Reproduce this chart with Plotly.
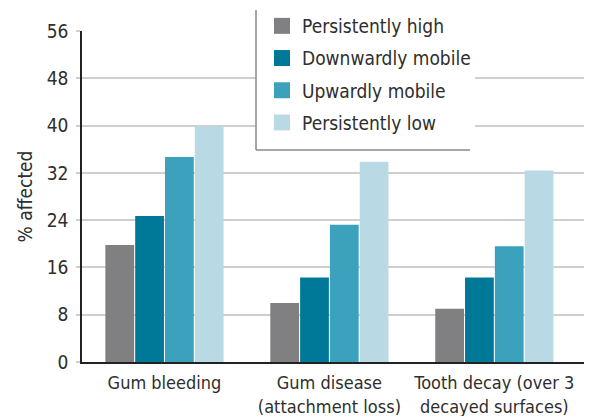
import plotly.graph_objects as go

categories = ["Gum bleeding", "Gum disease<br>(attachment loss)", "Tooth decay (over 3<br>decayed surfaces)"]
series_names = ["Persistently high", "Downwardly mobile", "Upwardly mobile", "Persistently low"]
persistently_high = [19.8, 10.0, 9.0]
downwardly_mobile = [24.7, 14.3, 14.3]
upwardly_mobile = [34.7, 23.2, 19.6]
persistently_low = [39.9, 33.9, 32.4]
y_ticks = [0, 8, 16, 24, 32, 40, 48, 56]

colors = ["#808083", "#007898", "#3ca1bd", "#b9dae4"]
FONT = "DejaVu Sans Condensed, Liberation Sans Narrow, sans-serif"
TXT = "#2e2e2e"

# the page body adds an 8px margin; the figure is sized so page == reference pixels
OFF = 8
W, H = 592 - OFF, 416 - OFF

fig = go.Figure()
for name, vals, col in zip(series_names,
                           [persistently_high, downwardly_mobile, upwardly_mobile, persistently_low],
                           colors):
    fig.add_trace(go.Bar(x=categories, y=vals, name=name, marker=dict(color=col, line=dict(width=0)),
                         showlegend=False))
for name, col in zip(series_names, colors):
    fig.add_trace(go.Scatter(x=[None], y=[None], mode="markers", name=name, legendgroup=name,
                             marker=dict(symbol="square", size=16, color=col), showlegend=True))

# plot area in page pixels: x 82..590, y 31..362
L, R, T, B = 82 - OFF, 590 - OFF, 31 - OFF, 362 - OFF
def px(x):
    return (x - OFF - L) / (R - L)
def py(y):
    return (B - (y - OFF)) / (B - T)

fig.add_shape(type="rect", xref="paper", yref="paper", x0=px(256), x1=px(475), y0=py(150), y1=py(9),
              fillcolor="white", line=dict(width=0), layer="above")
fig.add_shape(type="line", xref="paper", yref="paper", x0=px(256), x1=px(256), y0=py(150), y1=py(10),
              line=dict(color="#8a8a8a", width=1.5), layer="above")
fig.add_shape(type="line", xref="paper", yref="paper", x0=px(256), x1=px(470), y0=py(150), y1=py(150),
              line=dict(color="#8a8a8a", width=1.5), layer="above")

fig.update_layout(
    width=W, height=H,
    margin=dict(l=L, r=W - R, t=T, b=H - B, autoexpand=False),
    paper_bgcolor="white", plot_bgcolor="white",
    barmode="group", bargap=0.277, bargroupgap=0.035,
    font=dict(family=FONT, size=19, color=TXT),
    legend=dict(x=px(262), y=py(7), xanchor="left", yanchor="top",
                bgcolor="rgba(0,0,0,0)", borderwidth=0,
                traceorder="grouped", tracegroupgap=4.5,
                font=dict(family=FONT, size=19, color=TXT)),
    xaxis=dict(range=[-0.5, 2.58], showgrid=False, showline=True, linecolor="#222222", linewidth=1.5,
               ticks="", ticklabelstandoff=4, tickfont=dict(family=FONT, size=18, color=TXT)),
    yaxis=dict(range=[0, 56], tickvals=y_ticks, showgrid=True, gridcolor="#cfcfcf", gridwidth=1.5,
               showline=True, linecolor="#222222", linewidth=1.5, ticks="outside", ticklen=4,
               tickcolor="#cfcfcf", tickwidth=1.5, zeroline=False, ticklabelstandoff=4,
               tickfont=dict(family=FONT, size=19, color=TXT),
               title=dict(text="% affected", font=dict(family=FONT, size=19, color=TXT), standoff=9)),
)

fig.write_html("out.html")
